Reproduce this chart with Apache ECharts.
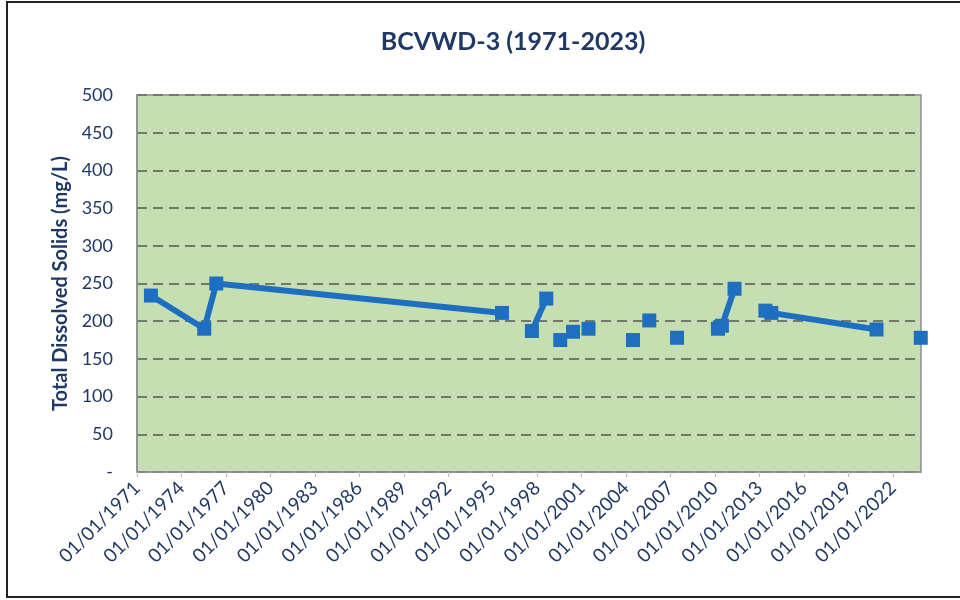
<!DOCTYPE html>
<html>
<head>
<meta charset="utf-8">
<script src="https://cdn.jsdelivr.net/npm/echarts@6/dist/echarts.min.js"></script>
<style>
  html, body { margin: 0; padding: 0; background: #fff; }
  #chart { width: 960px; height: 600px; }
</style>
</head>
<body>
<div id="chart"></div>
<script>
// sample dates
var sampleDates = [
  "1971-12-10", "1975-07-16", "1976-05-08", "1995-08-18",
  "1997-08-25", "1998-08-14", "1999-07-24", "2000-06-03",
  "2001-06-20", "2004-06-20", "2005-07-27", "2007-06-10",
  "2010-03-15", "2010-06-20", "2011-04-27", "2013-05-27",
  "2013-10-20", "2020-11-25", "2023-11-20"
];
// TDS, mg/L
var tdsValues = [
  234, 190, 250, 211,
  187, 230, 175, 186,
  190, 175, 201, 178,
  190, 194, 243, 214,
  211, 189, 178
];
// which points are joined by a line (same id = connected)
var segmentIds = [
  1, 1, 1, 1,
  2, 2, 3, 4,
  5, 6, 7, 8,
  9, 9, 9, 10,
  10, 10, 11
];
var yTicks = [0, 50, 100, 150, 200, 250, 300, 350, 400, 450, 500];

var navy = "#1f3864";
var blue = "#1f6fc1";

function toYear(s) {
  var p = s.split("-").map(Number);
  var start = Date.UTC(p[0], 0, 1), end = Date.UTC(p[0] + 1, 0, 1);
  return p[0] + (Date.UTC(p[0], p[1] - 1, p[2]) - start) / (end - start);
}

// build line data, breaking the line between segments
var lineData = [];
sampleDates.forEach(function (d, i) {
  if (i > 0 && segmentIds[i] !== segmentIds[i - 1]) {
    lineData.push([toYear(d), "-"]);
  }
  lineData.push([toYear(d), tdsValues[i]]);
});

var chart = echarts.init(document.getElementById("chart"), null, { renderer: "canvas" });

chart.setOption({
  backgroundColor: "#fff",
  animation: false,
  textStyle: { fontFamily: "Lato, 'Open Sans', sans-serif" },
  title: {
    text: "BCVWD-3 (1971-2023)",
    left: 508,
    top: 24,
    textAlign: "center",
    textStyle: { color: navy, fontSize: 25, fontWeight: "bold", fontFamily: "Lato" }
  },
  graphic: [{
    type: "rect",
    shape: { x: 7, y: 2, width: 960, height: 595 },
    style: { fill: null, stroke: "#222", lineWidth: 2 },
    silent: true
  }],
  grid: {
    left: 137,
    right: 39,
    top: 95,
    bottom: 128,
    show: true,
    backgroundColor: "#c5dfb3",
    borderColor: "#8e8e8e",
    borderWidth: 1.5
  },
  xAxis: {
    type: "value",
    min: 1971,
    max: 2023.9,
    interval: 3,
    axisLine: { show: true, lineStyle: { color: "#8e8e8e", width: 1.5 } },
    axisTick: { show: true, length: 5, lineStyle: { color: "#bfbfbf" } },
    splitLine: { show: false },
    axisLabel: {
      rotate: 45,
      color: navy,
      fontSize: 19,
      margin: 13,
      showMaxLabel: false,
      formatter: function (v) {
        return Number.isInteger(v) ? "01/01/" + v : "";
      }
    }
  },
  yAxis: {
    type: "value",
    min: yTicks[0],
    max: yTicks[yTicks.length - 1],
    interval: 50,
    name: "Total Dissolved Solids (mg/L)",
    nameLocation: "middle",
    nameGap: 63,
    nameTextStyle: { color: navy, fontSize: 20, fontWeight: "bold" },
    axisLine: { show: true, lineStyle: { color: "#8e8e8e", width: 1.5 } },
    axisTick: { show: false },
    axisLabel: {
      color: navy,
      fontSize: 18,
      margin: 24,
      formatter: function (v) { return v === 0 ? "-" : v; }
    },
    splitLine: {
      show: true,
      lineStyle: { color: "#737a6c", width: 2, type: [10, 6] }
    }
  },
  series: [{
    type: "line",
    data: lineData,
    connectNulls: false,
    symbol: "rect",
    symbolSize: 14,
    showAllSymbol: true,
    itemStyle: { color: blue },
    lineStyle: { color: blue, width: 6 }
  }]
});
</script>
</body>
</html>
